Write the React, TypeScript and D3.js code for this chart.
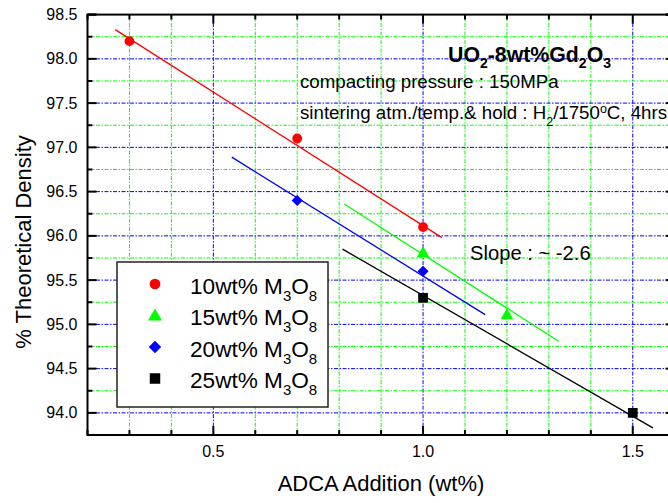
import React, { useEffect, useRef } from "react";
import * as d3 from "d3";

// measured points (ADCA wt%, % theoretical density)
const xTen = [0.3, 0.7, 1.0];
const yTen = [98.2, 97.1, 96.1];
const xFifteen = [1.0, 1.2];
const yFifteen = [95.8, 95.1];
const xTwenty = [0.7, 1.0];
const yTwenty = [96.4, 95.6];
const xTwentyFive = [1.0, 1.5];
const yTwentyFive = [95.3, 94.0];

// linear fit segments, start/end
const fitTen = [[0.266, 98.33], [1.045, 95.98]];
const fitFifteen = [[0.812, 96.36], [1.323, 94.81]];
const fitTwenty = [[0.544, 96.89], [1.148, 95.11]];
const fitTwentyFive = [[0.808, 95.85], [1.548, 93.83]];

const legendNames = ["10wt% M", "15wt% M", "20wt% M", "25wt% M"];
const xTickLabels = [0.5, 1.0, 1.5];
const yTickLabels = [94.0, 94.5, 95.0, 95.5, 96.0, 96.5, 97.0, 97.5, 98.0, 98.5];

const FONT = "'Liberation Sans', Arial, sans-serif";

export default function App() {
  const svgRef = useRef<SVGSVGElement>(null);

  useEffect(() => {
    const W = 668;
    const H = 503;
    const svg = d3.select(svgRef.current);
    svg.selectAll("*").remove();
    svg.attr("width", W).attr("height", H).style("font-family", FONT);

    const x = d3.scaleLinear().domain([0.2, 1.6]).range([87.5, 674.7]);
    const y = d3.scaleLinear().domain([93.75, 98.5]).range([435, 14.6]);
    const [x0, x1] = x.range();
    const [yb, yt] = y.range();

    svg.append("rect").attr("width", W).attr("height", H).attr("fill", "white");

    const xMinor = d3.range(2, 17).map((v) => v / 10);
    const yMinor = d3.range(0, 20).map((v) => 93.75 + v * 0.25);
    const isMajor = (v: number) => Math.abs(v * 2 - Math.round(v * 2)) < 1e-6;

    // grid
    const grid = svg.append("g");
    xMinor
      .filter((v) => v > 0.21 && v < 1.59)
      .forEach((v) => {
        grid
          .append("line")
          .attr("x1", x(v))
          .attr("x2", x(v))
          .attr("y1", yt)
          .attr("y2", yb)
          .attr("stroke", isMajor(v) ? "#0000ff" : "#00ff00")
          .attr("stroke-width", 1)
          .attr("stroke-dasharray", "4,1.5,1.5,1.5");
      });
    yMinor
      .filter((v) => v > 93.8 && v < 98.45)
      .forEach((v) => {
        grid
          .append("line")
          .attr("x1", x0)
          .attr("x2", x1)
          .attr("y1", y(v))
          .attr("y2", y(v))
          .attr("stroke", isMajor(v) ? "#0000ff" : "#00ff00")
          .attr("stroke-width", 1)
          .attr("stroke-dasharray", "4,1.5,1.5,1.5");
      });

    // fit lines
    const line = d3
      .line<number[]>()
      .x((d) => x(d[0]))
      .y((d) => y(d[1]));
    const fits: [number[][], string][] = [
      [fitTen, "#ff0000"],
      [fitFifteen, "#00ff00"],
      [fitTwenty, "#0000ff"],
      [fitTwentyFive, "#000000"],
    ];
    fits.forEach(([pts, c]) => {
      svg
        .append("path")
        .attr("d", line(pts))
        .attr("fill", "none")
        .attr("stroke", c)
        .attr("stroke-width", 1.3);
    });

    // markers (diamond = square turned 45deg)
    const symbols = [
      { type: d3.symbolCircle, size: 75, color: "#ff0000", rot: 0 },
      { type: d3.symbolTriangle, size: 70, color: "#00ff00", rot: 0 },
      { type: d3.symbolSquare, size: 62, color: "#0000ff", rot: 45 },
      { type: d3.symbolSquare, size: 95, color: "#000000", rot: 0 },
    ];
    const seriesX = [xTen, xFifteen, xTwenty, xTwentyFive];
    const seriesY = [yTen, yFifteen, yTwenty, yTwentyFive];
    seriesX.forEach((xs, i) => {
      const s = symbols[i];
      xs.forEach((xv, j) => {
        svg
          .append("path")
          .attr("d", d3.symbol().type(s.type).size(s.size)())
          .attr("transform", `translate(${x(xv)},${y(seriesY[i][j])}) rotate(${s.rot})`)
          .attr("fill", s.color);
      });
    });

    // frame and ticks
    const axes = svg.append("g").attr("stroke", "black").attr("stroke-width", 2);
    axes
      .append("rect")
      .attr("x", x0)
      .attr("y", yt)
      .attr("width", x1 - x0)
      .attr("height", yb - yt)
      .attr("fill", "none");
    xMinor.forEach((v) => {
      const len = isMajor(v) ? 9 : 5;
      axes.append("line").attr("x1", x(v)).attr("x2", x(v)).attr("y1", yb).attr("y2", yb - len);
      axes.append("line").attr("x1", x(v)).attr("x2", x(v)).attr("y1", yt).attr("y2", yt + len);
    });
    yMinor.concat([98.5]).forEach((v) => {
      const len = isMajor(v) ? 9 : 5;
      axes.append("line").attr("x1", x0).attr("x2", x0 + len).attr("y1", y(v)).attr("y2", y(v));
      axes.append("line").attr("x1", x1).attr("x2", x1 - len).attr("y1", y(v)).attr("y2", y(v));
    });

    // tick labels
    xTickLabels.forEach((v) => {
      svg
        .append("text")
        .attr("x", x(v))
        .attr("y", 457)
        .attr("text-anchor", "middle")
        .attr("font-size", 16)
        .text(d3.format(".1f")(v));
    });
    yTickLabels.forEach((v) => {
      svg
        .append("text")
        .attr("x", 77.5)
        .attr("y", y(v) + 5.5)
        .attr("text-anchor", "end")
        .attr("font-size", 16)
        .text(d3.format(".1f")(v));
    });

    // axis titles
    svg
      .append("text")
      .attr("x", 381)
      .attr("y", 491)
      .attr("text-anchor", "middle")
      .attr("font-size", 22)
      .text("ADCA Addition (wt%)");
    svg
      .append("text")
      .attr("transform", "translate(31,242) rotate(-90)")
      .attr("text-anchor", "middle")
      .attr("font-size", 22)
      .text("% Theoretical Density");

    // rich text helper: parts with optional sub / sup
    type Part = { t: string; sub?: boolean; sup?: boolean };
    const rich = (
      px: number,
      py: number,
      parts: Part[],
      size: number,
      small: number,
      subDy: number,
      supDy: number,
      weight = "normal"
    ) => {
      const t = svg
        .append("text")
        .attr("x", px)
        .attr("y", py)
        .attr("font-size", size)
        .attr("font-weight", weight);
      let shift = 0;
      parts.forEach((p) => {
        const target = p.sub ? subDy : p.sup ? -supDy : 0;
        t.append("tspan")
          .attr("dy", target - shift)
          .attr("font-size", p.sub || p.sup ? small : size)
          .text(p.t);
        shift = target;
      });
      return t;
    };

    // legend
    const lg = svg.append("g");
    lg.append("rect")
      .attr("x", 117)
      .attr("y", 262)
      .attr("width", 211)
      .attr("height", 145)
      .attr("fill", "white")
      .attr("stroke", "#222")
      .attr("stroke-width", 1.5);
    const rowY = [284, 315.5, 347, 378.5];
    legendNames.forEach((name, i) => {
      const s = symbols[i];
      svg
        .append("path")
        .attr("d", d3.symbol().type(s.type).size(s.size + 15)())
        .attr("transform", `translate(155,${rowY[i] + (i === 1 ? 1 : 0)}) rotate(${s.rot})`)
        .attr("fill", s.color);
      rich(
        190,
        rowY[i] + 9.5,
        [{ t: name }, { t: "3", sub: true }, { t: "O" }, { t: "8", sub: true }],
        22.6,
        15,
        7,
        0
      );
    });

    // annotations
    rich(
      448,
      62,
      [
        { t: "UO" },
        { t: "2", sub: true },
        { t: "-8wt%Gd" },
        { t: "2", sub: true },
        { t: "O" },
        { t: "3", sub: true },
      ],
      21.3,
      14,
      6,
      0,
      "bold"
    );
    rich(300, 87.5, [{ t: "compacting pressure : 150MPa" }], 18.7, 12, 0, 0);
    rich(
      300,
      118.5,
      [
        { t: "sintering atm./temp.& hold : H" },
        { t: "2", sub: true },
        { t: "/1750" },
        { t: "o", sup: true },
        { t: "C, 4hrs" },
      ],
      18.7,
      12.5,
      7,
      6
    );
    rich(470, 260, [{ t: "Slope : ~ -2.6" }], 20.2, 12, 0, 0);
  }, []);

  return (
    <svg
      ref={svgRef}
      style={{ position: "absolute", left: 0, top: 0, display: "block" }}
    />
  );
}
